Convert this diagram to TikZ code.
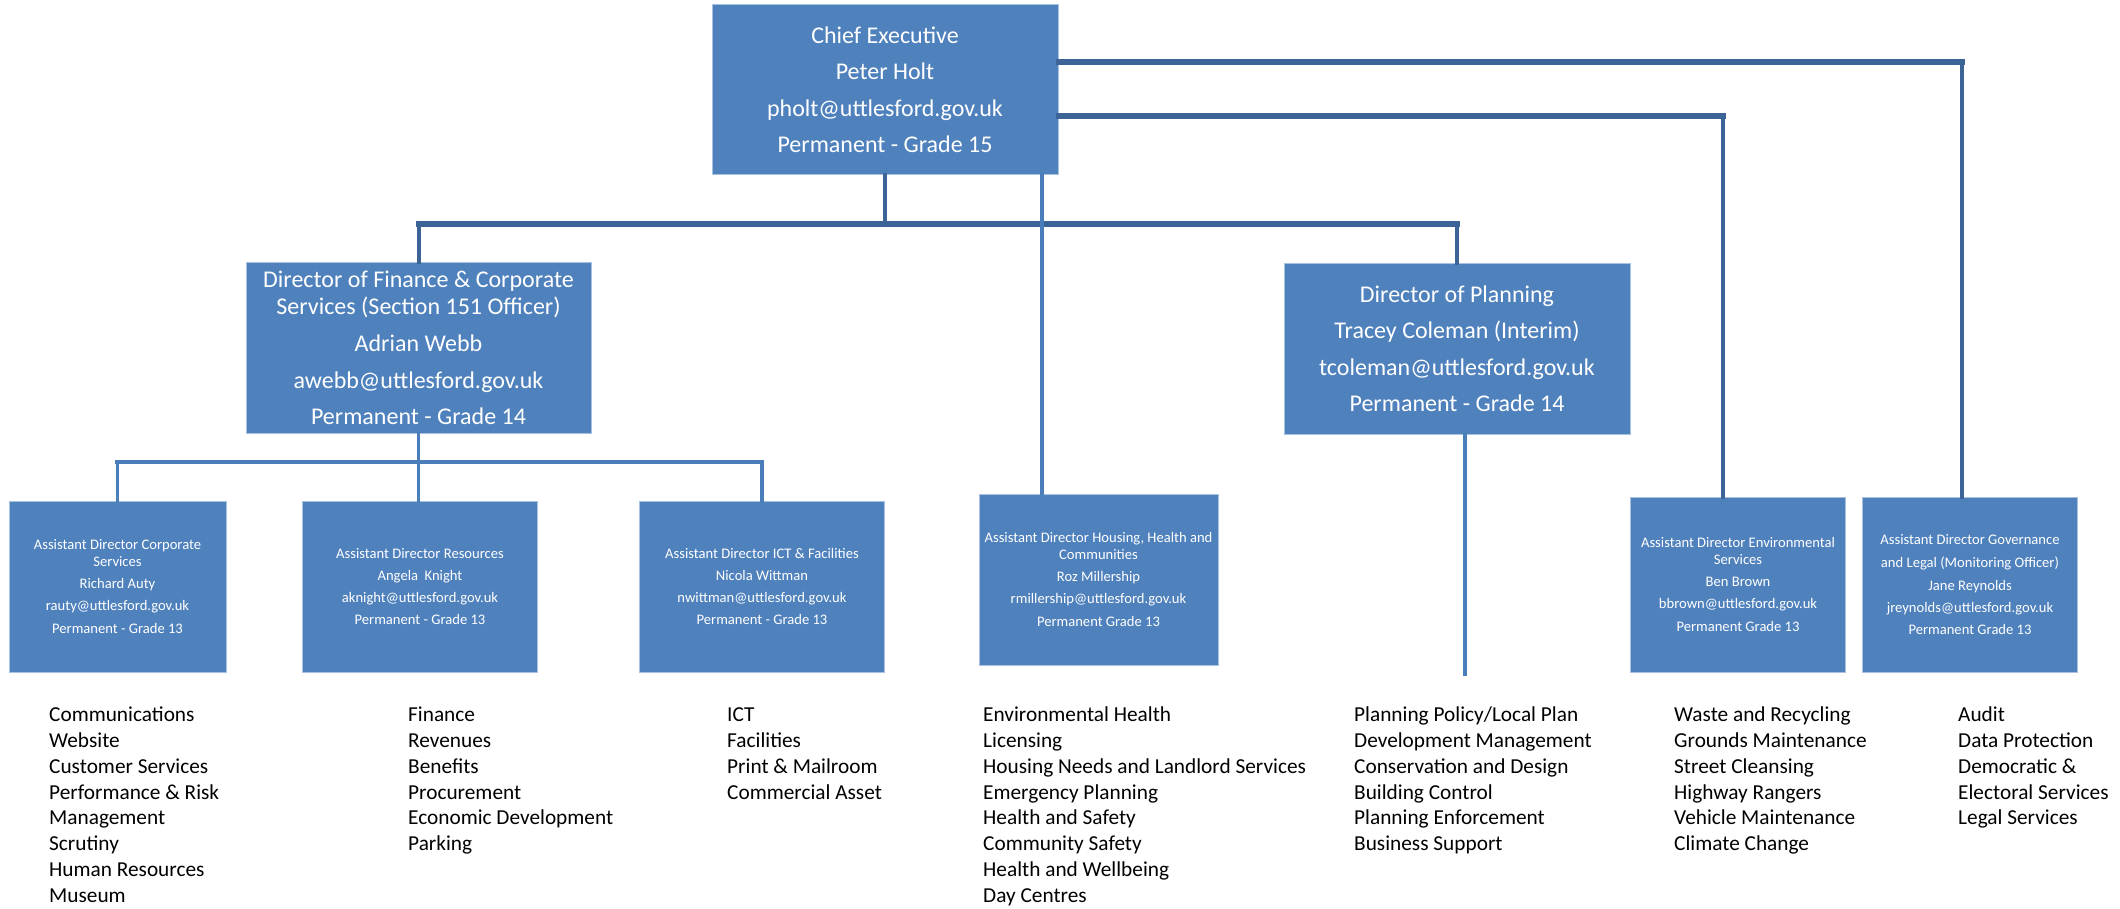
\documentclass[tikz,border=0pt]{standalone}
\usepackage{fontspec}
\setmainfont{Carlito}
\definecolor{boxblue}{HTML}{4F81BD}
\definecolor{boxedge}{HTML}{A9C1E0}
\definecolor{trunkblue}{HTML}{3C6496}
\definecolor{feederblue}{HTML}{4A7EBB}
\tikzset{
  post/.style={rectangle, fill=boxblue, draw=boxedge, line width=1pt, text=white,
    align=center, inner sep=0pt},
  bigpost/.style={post, minimum width=346pt, minimum height=170pt,
    font=\fontsize{24}{27}\selectfont},
  smallpost/.style={post, minimum height=171pt,
    font=\fontsize{14.6}{16.3}\selectfont},
  duties/.style={anchor=north west, align=left, inner sep=0pt,
    font=\fontsize{21.3}{25.9}\selectfont},
  trunk/.style={draw=trunkblue, line width=4pt, line cap=rect},
  busline/.style={draw=trunkblue, line width=5.6pt, line cap=rect},
  feeder/.style={draw=feederblue, line width=3.6pt, line cap=rect},
  feederbus/.style={draw=feederblue, line width=4.6pt, line cap=rect}
}
\begin{document}
\begin{tikzpicture}[x=1pt,y=-1pt]
  \useasboundingbox (0,0) rectangle (2120,909);
  % top level
  \node[bigpost] (ce) at (885,90) {Chief Executive\\[9.5pt] Peter Holt\\[9.5pt] pholt@uttlesford.gov.uk\\[9.5pt] Permanent - Grade 15};
  % directors
  \node[bigpost, minimum width=345pt] (dfin) at (418.5,348) {Director of Finance \& Corporate\\ Services (Section 151 Officer)\\[10pt] Adrian Webb\\[9.5pt] awebb@uttlesford.gov.uk\\[9.5pt] Permanent - Grade 14};
  \node[bigpost] (dplan) at (1457,349) {Director of Planning\\[9.5pt] Tracey Coleman (Interim)\\[9.5pt] tcoleman@uttlesford.gov.uk\\[9.5pt] Permanent - Grade 14};
  % assistant directors
  \node[smallpost, minimum width=217pt] (adcorp) at (117.5,586.5) {Assistant Director Corporate\\ Services\\[6pt] Richard Auty\\[6pt] rauty@uttlesford.gov.uk\\[6pt] Permanent - Grade 13};
  \node[smallpost, minimum width=234.5pt] (adres) at (420,586.5) {Assistant Director Resources\\[6pt] Angela~~Knight\\[6pt] aknight@uttlesford.gov.uk\\[6pt] Permanent - Grade 13};
  \node[smallpost, minimum width=245pt] (adict) at (762,586.5) {Assistant Director ICT \& Facilities\\[6pt] Nicola Wittman\\[6pt] nwittman@uttlesford.gov.uk\\[6pt] Permanent - Grade 13};
  \node[smallpost, minimum width=239pt] (adhous) at (1098.5,579.5) {Assistant Director Housing, Health and\\ Communities\\[6pt] Roz Millership\\[6pt] rmillership@uttlesford.gov.uk\\[6pt] Permanent Grade 13};
  \node[smallpost, minimum width=215.5pt, minimum height=175pt] (adenv) at (1738,584.5) {Assistant Director Environmental\\ Services\\[6pt] Ben Brown\\[6pt] bbrown@uttlesford.gov.uk\\[6pt] Permanent Grade 13};
  \node[smallpost, minimum width=215.5pt, minimum height=175pt] (adgov) at (1970,584.5) {Assistant Director Governance\\[7.5pt] and Legal (Monitoring Officer)\\[6pt] Jane Reynolds\\[6pt] jreynolds@uttlesford.gov.uk\\[6pt] Permanent Grade 13};
  % connectors
  \coordinate (bus) at (885,224);
  \coordinate (fbus) at (418.5,462);
  \coordinate (planend) at (1465,674);
  \coordinate (govtap) at ([yshift=28pt]ce.east);
  \coordinate (envtap) at ([yshift=-26pt]ce.east);
  \coordinate (govin) at ([xshift=-8pt]adgov.north);
  \coordinate (envin) at ([xshift=-15pt]adenv.north);
  \draw[trunk] (ce.south) -- (bus);
  \draw[trunk] (dfin.north) -- (dfin.north |- bus);
  \draw[trunk] (dplan.north) -- (dplan.north |- bus);
  \draw[busline] (dfin.north |- bus) -- (dplan.north |- bus);
  \draw[trunk] (govin |- govtap) -- (govin);
  \draw[trunk] (envin |- envtap) -- (envin);
  \draw[busline] (govtap) -- (govin |- govtap);
  \draw[busline] (envtap) -- (envin |- envtap);
  \draw[feeder] ([xshift=157pt]ce.south) -- ([xshift=-56.5pt]adhous.north);
  \draw[feeder] (adcorp.north) -- (adcorp.north |- fbus);
  \draw[feeder] (adict.north) -- (adict.north |- fbus);
  \draw[feeder] (dfin.south) -- (dfin.south |- adres.north);
  \draw[feederbus] (adcorp.north |- fbus) -- (adict.north |- fbus);
  \draw[feeder] ([xshift=8pt]dplan.south) -- (planend);
  % service lists
  \node[duties] (listcorp) at (49,703) {\strut Communications\\ Website\\ Customer Services\\ Performance \& Risk\\ Management\\ Scrutiny\\ Human Resources\\ Museum};
  \node[duties] (listres) at (408,703) {\strut Finance\\ Revenues\\ Benefits\\ Procurement\\ Economic Development\\ Parking};
  \node[duties] (listict) at (727,703) {\strut ICT\\ Facilities\\ Print \& Mailroom\\ Commercial Asset};
  \node[duties] (listhous) at (983,703) {\strut Environmental Health\\ Licensing\\ Housing Needs and Landlord Services\\ Emergency Planning\\ Health and Safety\\ Community Safety\\ Health and Wellbeing\\ Day Centres};
  \node[duties] (listplan) at (1354,703) {\strut Planning Policy/Local Plan\\ Development Management\\ Conservation and Design\\ Building Control\\ Planning Enforcement\\ Business Support};
  \node[duties] (listenv) at (1674,703) {\strut Waste and Recycling\\ Grounds Maintenance\\ Street Cleansing\\ Highway Rangers\\ Vehicle Maintenance\\ Climate Change};
  \node[duties] (listgov) at (1958,703) {\strut Audit\\ Data Protection\\ Democratic \&\\ Electoral Services\\ Legal Services};
\end{tikzpicture}
\end{document}
